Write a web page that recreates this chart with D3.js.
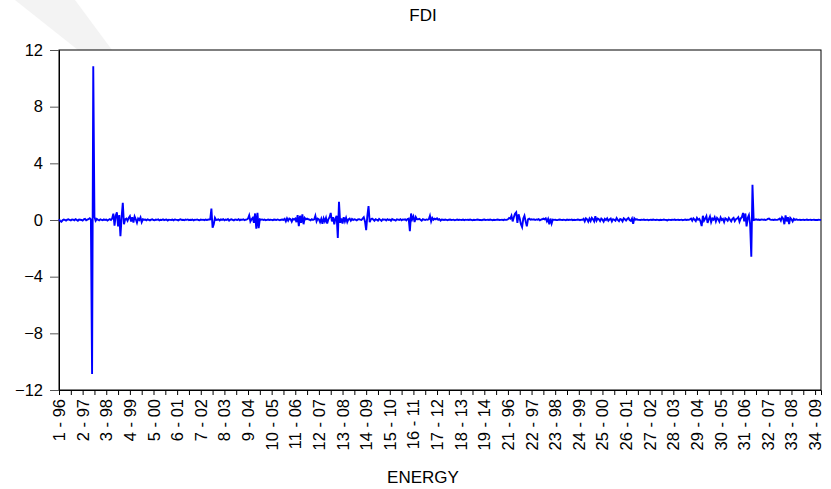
<!DOCTYPE html>
<html><head><meta charset="utf-8">
<script src="https://cdn.jsdelivr.net/npm/d3@7"></script>
<style>
html,body{margin:0;padding:0;background:#fff;}
svg{display:block;font-family:"Liberation Sans",Arial,sans-serif;}
</style></head>
<body>
<svg id="chart" width="831" height="489"></svg>
<script>
const title = "FDI";
const xTitle = "ENERGY";
const yTicks = [-12, -8, -4, 0, 4, 8, 12];
const tickLabels = ["1 - 96","2 - 97","3 - 98","4 - 99","5 - 00","6 - 01","7 - 02","8 - 03","9 - 04","10 - 05",
  "11 - 06","12 - 07","13 - 08","14 - 09","15 - 10","16 - 11","17 - 12","18 - 13","19 - 14","21 - 96",
  "22 - 97","23 - 98","24 - 99","25 - 00","26 - 01","27 - 02","28 - 03","29 - 04","30 - 05","31 - 06",
  "32 - 07","33 - 08","34 - 09"];
const labelStep = 20;   // observations between labelled ticks
const minorStep = 10;   // observations between ticks

const fdi = [
 0.05,-0.08,-0.12,-0.02,0.03,0.01,-0.04,0.02,0.05,0.00,
 -0.03,0.04,0.02,-0.02,0.06,0.01,-0.05,0.03,0.02,0.00,
 -0.04,0.05,0.08,-0.02,0.03,0.06,0.12,0.04,
 -10.87,10.85,
 0.22,-0.05,0.08,0.02,-0.03,0.05,0.01,-0.02,0.04,0.00,0.03,-0.04,0.02,0.06,0.00,0.10,
 0.45,-0.40,0.30,0.55,-0.45,0.35,-1.15,0.20,1.22,-0.30,0.05,
 0.10,-0.05,0.15,0.27,-0.10,0.20,-0.18,0.25,0.05,-0.20,0.10,0.00,0.18,-0.15,0.05,0.02,
 0.03,-0.02,0.04,0.01,-0.03,0.02,0.05,0.00,-0.02,0.03,
 0.01,0.04,-0.03,0.02,0.00,0.05,-0.01,0.02,0.03,-0.04,
 0.02,0.01,0.00,0.03,-0.02,0.04,0.02,0.01,-0.03,0.02,
 0.05,0.00,0.02,-0.02,0.03,0.01,0.04,-0.01,0.02,0.00,
 0.03,-0.03,0.02,0.01,0.04,0.00,-0.02,0.03,0.01,0.02,
 -0.01,0.03,0.00,0.02,0.04,0.05,
 0.80,-0.55,-0.30,0.15,0.00,
 0.02,0.05,-0.03,0.04,0.01,0.06,-0.02,0.03,0.00,0.07,
 -0.04,0.02,0.05,0.01,-0.03,0.04,0.02,0.00,0.06,-0.02,
 0.03,0.01,0.05,-0.01,0.02,0.04,
 0.10,0.33,-0.10,0.05,0.15,-0.20,0.46,-0.62,0.50,-0.58,0.05,
 0.02,0.04,0.00,0.03,-0.02,0.01,0.03,0.00,0.02,0.01,
 -0.01,0.03,0.02,0.00,0.04,0.01,-0.02,0.02,0.03,0.00,
 0.08,-0.10,0.12,-0.05,0.10,0.06,-0.12,0.08,0.03,
 0.10,-0.15,0.35,-0.44,0.30,-0.20,0.39,-0.30,0.15,0.05,0.10,
 0.05,0.03,-0.02,0.06,0.00,0.04,
 0.30,-0.10,0.10,0.05,-0.15,0.08,-0.27,0.12,-0.10,0.15,-0.25,0.05,0.20,
 0.50,-0.10,0.20,-0.30,0.10,0.30,-1.26,1.29,-0.20,
 0.10,-0.25,0.20,-0.10,0.15,-0.15,0.05,0.10,-0.05,0.08,0.00,
 0.05,0.02,-0.03,0.04,0.06,0.02,0.00,
 0.10,0.20,-0.10,-0.72,0.30,0.98,-0.15,0.05,0.10,
 0.03,-0.05,0.06,0.02,-0.04,0.08,0.01,-0.06,0.05,0.02,
 0.04,-0.03,0.06,0.00,0.03,-0.05,0.07,0.02,0.01,-0.04,
 0.05,0.03,0.00,0.06,-0.02,0.04,0.02,0.05,-0.03,0.06,
 0.10,-0.79,0.46,0.05,0.25,-0.15,0.20,0.05,
 0.05,0.08,0.02,-0.05,0.06,0.03,0.00,0.04,0.02,0.05,
 0.30,-0.10,0.15,0.02,
 0.10,0.05,0.12,0.02,0.06,-0.04,0.03,
 0.02,0.00,0.03,0.01,-0.01,0.02,0.03,0.00,0.01,0.02,
 -0.02,0.01,0.03,0.00,0.02,0.01,0.00,0.03,-0.01,0.02,
 0.01,0.02,0.00,0.03,0.01,-0.02,0.02,0.00,0.01,0.03,
 0.02,0.00,0.01,-0.01,0.02,0.03,0.00,0.01,0.02,0.00,
 0.03,0.01,-0.01,0.02,0.00,0.01,0.03,0.02,0.00,0.01,
 0.02,-0.01,0.03,0.01,0.02,
 0.05,0.15,0.10,0.30,-0.10,0.20,0.45,0.55,-0.20,0.40,0.10,-0.30,-0.50,0.10,0.30,-0.10,-0.45,0.05,0.10,0.02,0.05,
 0.03,0.05,0.00,0.04,0.02,0.06,-0.02,0.03,0.05,
 0.10,0.05,0.12,-0.10,0.08,-0.30,0.10,-0.25,
 0.03,0.01,0.02,0.00,-0.01,0.02,0.03,0.01,0.00,0.02,
 0.01,-0.02,0.03,0.00,0.02,0.01,0.03,-0.01,0.02,0.00,
 0.01,0.03,0.02,-0.01,0.02,0.01,
 0.08,-0.10,0.12,0.05,-0.12,0.10,-0.08,0.15,0.05,-0.10,0.27,-0.05,0.10,
 0.05,-0.08,0.10,0.02,-0.12,0.08,0.00,0.12,-0.06,0.04,
 0.10,-0.10,0.06,0.02,-0.05,0.14,0.00,-0.08,0.07,0.03,
 -0.10,0.12,0.05,-0.04,0.08,0.15,0.00,-0.06,0.10,-0.27,
 0.12,0.03,0.05,
 0.02,0.01,0.00,0.02,0.01,0.03,0.00,0.01,0.02,-0.01,
 0.01,0.02,0.00,0.03,0.01,0.00,0.02,0.01,-0.01,0.02,
 0.00,0.01,0.03,0.01,0.00,-0.03,0.02,0.01,0.00,0.02,
 0.01,0.03,0.00,0.01,0.02,0.00,0.01,0.02,-0.01,0.01,
 0.03,0.00,0.02,0.01,
 0.05,0.10,-0.05,0.12,0.03,-0.08,0.15,0.02,0.08,-0.10,
 -0.43,0.30,-0.05,0.10,0.28,-0.20,0.05,0.25,-0.15,0.10,
 0.02,0.20,-0.10,0.15,0.05,-0.12,0.18,0.00,0.08,-0.15,
 0.12,0.05,-0.05,0.14,0.02,-0.10,0.08,0.15,-0.08,0.05,
 0.10,0.20,-0.12,0.10,
 0.20,0.50,-0.10,0.46,-0.45,0.15,0.35,-0.30,
 -2.60,2.48,0.00,
 0.02,0.05,0.01,0.03,0.00,0.02,0.04,0.01,0.03,0.00,
 0.02,0.08,0.10,0.03,0.01,0.02,0.00,0.03,0.01,0.02,
 0.05,0.10,-0.05,0.20,0.10,-0.30,0.33,-0.10,0.20,-0.28,0.15,0.05,-0.10,0.08,0.00,0.05,0.02,
 0.01,0.02,0.00,0.01,0.02,0.00,0.01,0.03,0.00,0.01,
 0.02,0.00,0.01,0.02,0.00,0.01,0.00,0.02,0.01,0.00
];

const svg = d3.select("#chart");
const W = 831, H = 489;
const m = {left: 59, right: 10, top: 50, bottom: 99};
const iw = W - m.left - m.right, ih = H - m.top - m.bottom;

// faint watermark band (page artifact in reference)
svg.append("path").attr("d", "M15,0 L75,0 L112,50 L78,50 Z").attr("fill", "#f3f3f3");

const x = d3.scaleLinear().domain([0, fdi.length - 1]).range([m.left, m.left + iw]);
const y = d3.scaleLinear().domain([-12, 12]).range([m.top + ih, m.top]);

const g = svg.append("g");
g.append("rect").attr("x", m.left).attr("y", m.top).attr("width", iw).attr("height", ih)
  .attr("fill", "#fff").attr("stroke", "#000").attr("stroke-width", 1);

// Y axis
const yAxis = d3.axisLeft(y).tickValues(yTicks).tickSize(9).tickPadding(7).tickFormat(d3.format("d"));
const ya = g.append("g").attr("transform", `translate(${m.left},0)`).call(yAxis);
ya.select(".domain").attr("stroke", "#000");
ya.selectAll(".tick line").attr("stroke", "#555");
ya.selectAll("text").attr("font-size", 16.5).attr("fill", "#000").attr("font-family", "Liberation Sans, Arial, sans-serif");

// X axis ticks
const minorTicks = d3.range(0, fdi.length, minorStep);
const xAxis = d3.axisBottom(x).tickValues(minorTicks).tickSize(5).tickFormat(() => "");
const xa = g.append("g").attr("transform", `translate(0,${m.top + ih})`).call(xAxis);
xa.select(".domain").attr("stroke", "#000");
xa.selectAll(".tick line").attr("stroke", "#000");

// X labels rotated
const lab = g.append("g");
tickLabels.forEach((t, i) => {
  const xv = x(i * labelStep);
  lab.append("text")
    .attr("transform", `translate(${xv + 6},${m.top + ih + 9}) rotate(-90)`)
    .attr("text-anchor", "end")
    .attr("font-size", 16.5)
    .attr("fill", "#000")
    .text(t);
});

// Line
const line = d3.line().x((d, i) => x(i)).y(d => y(d));
g.append("path").datum(fdi).attr("d", line)
  .attr("fill", "none").attr("stroke", "#0000ff").attr("stroke-width", 1.9).attr("stroke-linejoin", "miter");

// Titles
svg.append("text").attr("x", 423).attr("y", 21).attr("text-anchor", "middle")
  .attr("font-size", 17).attr("fill", "#000").text(title);
svg.append("text").attr("x", 423).attr("y", 483).attr("text-anchor", "middle")
  .attr("font-size", 17).attr("fill", "#000").text(xTitle);
</script>
</body></html>
